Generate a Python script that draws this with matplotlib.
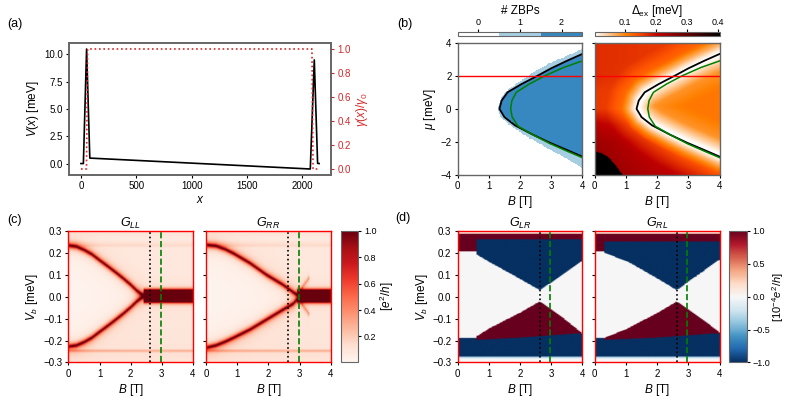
import numpy as np
import matplotlib
matplotlib.use('Agg')
import matplotlib.pyplot as plt
from matplotlib.colors import ListedColormap

plt.rcParams['font.family'] = ['Liberation Sans', 'DejaVu Sans']
plt.rcParams['mathtext.fontset'] = 'custom'
plt.rcParams['mathtext.rm'] = 'Liberation Sans'
plt.rcParams['mathtext.it'] = 'Liberation Sans:italic'
plt.rcParams['mathtext.bf'] = 'Liberation Sans:bold'
plt.rcParams['font.size'] = 7
plt.rcParams['axes.labelsize'] = 8.5
plt.rcParams['xtick.labelsize'] = 7
plt.rcParams['ytick.labelsize'] = 7
plt.rcParams['xtick.major.size'] = 2.5
plt.rcParams['ytick.major.size'] = 2.5
plt.rcParams['xtick.major.pad'] = 2
plt.rcParams['ytick.major.pad'] = 2
plt.rcParams['axes.labelpad'] = 2

# (a) potential profile and coupling
x_V = [0, 22, 51, 80, 2072, 2108, 2138, 2152]
V_x = [0.0, 0.0, 10.5, 0.5, -0.5, 9.5, 0.02, 0.0]
x_gamma = [0, 50, 60, 2087, 2097, 2150]
gamma_x = [0, 0, 1, 1, 0, 0]

# (b) phase boundaries (B in T, mu in meV)
black_mu = [-2.89, -2.48, -2.05, -1.55, -1.0, -0.5, 0.0, 0.5, 1.0, 1.5, 2.0, 2.45, 2.9, 3.32]
black_B = [4.0, 3.5, 2.96, 2.4, 1.84, 1.5, 1.34, 1.41, 1.6, 2.05, 2.56, 3.0, 3.5, 4.0]
green_mu = [-2.95, -2.55, -2.1, -1.55, -1.05, -0.5, 0.0, 0.5, 1.0, 1.5, 2.0, 2.5, 2.9]
green_B = [4.0, 3.5, 2.96, 2.4, 1.94, 1.75, 1.70, 1.74, 1.88, 2.3, 2.8, 3.4, 4.0]
outer_mu = [-3.6, -3.05, -2.5, -1.8, -1.0, -0.5, 0.0, 0.5, 1.0, 1.6, 2.3, 2.8, 3.2, 3.6]
outer_B = [4.0, 3.5, 2.96, 2.3, 1.65, 1.35, 1.28, 1.35, 1.5, 1.95, 2.5, 3.0, 3.5, 4.0]
mu_cut = 2.0

# (b) excitation gap levels
far_mu = [-4, -3, -2, -1, 0, 1, 2, 3, 4]
far_gap_B0 = [0.26, 0.25, 0.24, 0.21, 0.16, 0.16, 0.17, 0.17, 0.17]
far_gap_B4 = [0.17, 0.15, 0.14, 0.13, 0.12, 0.13, 0.14, 0.15, 0.15]
inner_gap = 0.11
corner_B = [0, 0.2, 0.4, 0.6, 0.87]
corner_mu = [-2.6, -2.7, -2.9, -3.3, -4.0]
corner_gap = 0.45
ramp_d = [0, 0.1, 0.25, 0.5, 1.0]
ramp_out = [0.0, 0.12, 0.42, 0.8, 1.0]
ramp_in = [0.0, 0.08, 0.35, 0.8, 1.0]

# (c) local conductance peaks (meV)
E_LL_B = [0, 0.25, 0.5, 0.75, 1.0, 1.25, 1.5, 1.75, 2.0, 2.2, 2.35, 2.42]
E_LL = [0.23, 0.225, 0.21, 0.19, 0.163, 0.137, 0.11, 0.082, 0.052, 0.025, 0.008, 0.0]
B_zbp_LL = 2.42
E_RR_B = [0, 0.3, 0.6, 0.87, 1.41, 1.94, 2.47, 2.8, 2.93]
E_RR_up = [0.232, 0.228, 0.213, 0.194, 0.149, 0.096, 0.051, 0.017, 0.005]
E_RR_dn = [0.235, 0.225, 0.208, 0.19, 0.152, 0.107, 0.062, 0.035, 0.015]
B_zbp_RR = 2.95
X_RR_B = [2.93, 3.1, 3.35]
X_RR_V = [0.0, 0.04, 0.09]
out_V = [-0.3, -0.26, -0.25, -0.24, 0.0, 0.22, 0.23, 0.26, 0.3]
out_G = [0.1, 0.12, 0.3, 0.1, 0.06, 0.08, 0.15, 0.06, 0.12]
B_dot = 2.63
B_dash = 2.97

# (d) nonlocal conductance boundaries
LR_step = 0.57
LR_up_B = [0.57, 1.0, 2.0, 2.62, 3.0, 3.5, 4.0]
LR_up_V = [0.19, 0.155, 0.077, 0.027, 0.062, 0.112, 0.16]
LR_lo_B = [0.57, 1.0, 2.0, 2.62, 3.0, 3.5, 4.0]
LR_lo_V = [0.185, 0.147, 0.075, 0.025, 0.06, 0.113, 0.17]
LR_floor_B = [0.6, 2.0, 3.9]
LR_floor_V = [-0.2, -0.19, -0.17]
RL_step = 0.3
RL_up_B = [0.3, 1.0, 2.0, 2.62, 3.0, 3.5, 4.0]
RL_up_V = [0.195, 0.16, 0.08, 0.027, 0.065, 0.115, 0.165]
RL_lo_B = [0.3, 1.0, 2.0, 2.62, 3.0, 3.5, 4.0]
RL_lo_V = [0.19, 0.15, 0.077, 0.025, 0.06, 0.11, 0.165]
RL_floor_B = [0.3, 2.0, 3.9]
RL_floor_V = [-0.2, -0.19, -0.17]

# grids
B_grid = np.linspace(0, 4, 161)
mu_grid = np.linspace(-4, 4, 161)
BB, MM = np.meshgrid(B_grid, mu_grid)
Vb = np.linspace(-0.3, 0.3, 241)
Bc = np.linspace(0, 4, 81)

# number of ZBPs
edge_in = np.interp(mu_grid, black_mu, black_B, left=99, right=99)
edge_out = np.interp(mu_grid, outer_mu, outer_B, left=99, right=99)
n_zbp = np.zeros_like(BB)
n_zbp[BB >= edge_out[:, None]] = 1
n_zbp[BB >= edge_in[:, None]] = 2

# gap map
mu_line = np.linspace(black_mu[0], black_mu[-1], 300)
B_line = np.interp(mu_line, black_mu, black_B)
dist = np.sqrt((BB[..., None] - B_line) ** 2 + ((MM[..., None] - mu_line) / 2.0) ** 2).min(axis=-1)
inside = BB >= edge_in[:, None]
far0 = np.interp(MM, far_mu, far_gap_B0)
far4 = np.interp(MM, far_mu, far_gap_B4)
far = far0 + (far4 - far0) * BB / 4
gap = np.where(inside, inner_gap * np.interp(dist, ramp_d, ramp_in), far * np.interp(dist, ramp_d, ramp_out))
gap[MM < np.interp(BB, corner_B, corner_mu, right=-99)] = corner_gap


def peak(v, w, a):
    return a * w ** 2 / (v ** 2 + w ** 2)


def local_map(E_B, E_up, E_dn, B_zbp, X_B=None, X_V=None):
    G = np.zeros((len(Vb), len(Bc)))
    for j, b in enumerate(Bc):
        base = np.interp(Vb, out_V, out_G)
        if b < B_zbp:
            eu = np.interp(b, E_B, E_up)
            ed = np.interp(b, E_B, E_dn)
            col = np.where((Vb < eu) & (Vb > -ed), 0.015, base)
            for e in (eu, -ed):
                col = col + peak(Vb - e, 0.008, 0.9) + peak(Vb - e, 0.025, 0.12)
        else:
            col = base + 1.3 / (1 + (Vb / 0.03) ** 8) + peak(Vb, 0.04, 0.12)
            if X_B is not None and b < X_B[-1]:
                ex = np.interp(b, X_B, X_V)
                col = col + peak(Vb - ex, 0.008, 0.3) + peak(Vb + ex, 0.008, 0.3)
        G[:, j] = col
    return G


def nonlocal_map(step, up_B, up_V, lo_B, lo_V, fl_B, fl_V, red_lo):
    G = np.zeros((len(Vb), len(Bc)))
    for j, b in enumerate(Bc):
        col = np.zeros(len(Vb))
        col[(Vb >= 0.284) & (Vb < 0.29)] = 0.25
        col[(Vb <= -0.275) & (Vb > -0.283)] = -0.3
        if b < step:
            col[(Vb > 0.205) & (Vb < 0.284)] = 1
            col[(Vb < -0.19) & (Vb > -0.275)] = -1
        else:
            eu = np.interp(b, up_B, up_V)
            el = np.interp(b, lo_B, lo_V)
            fl = np.interp(b, fl_B, fl_V)
            col[(Vb > red_lo) & (Vb < 0.284)] = 1
            col[(Vb > eu) & (Vb <= red_lo)] = -1
            col[(Vb < -el) & (Vb > fl)] = 1
            col[(Vb <= min(fl, -el)) & (Vb > -0.275)] = -1
        G[:, j] = col
    return G


G_LL = local_map(E_LL_B, E_LL, E_LL, B_zbp_LL)
G_RR = local_map(E_RR_B, E_RR_up, E_RR_dn, B_zbp_RR, X_RR_B, X_RR_V)
G_LR = nonlocal_map(LR_step, LR_up_B, LR_up_V, LR_lo_B, LR_lo_V, LR_floor_B, LR_floor_V, 0.258)
G_RL = nonlocal_map(RL_step, RL_up_B, RL_up_V, RL_lo_B, RL_lo_V, RL_floor_B, RL_floor_V, 0.25)

fig = plt.figure(figsize=(7.89, 3.98), dpi=100)
frame = '0.4'

# panel (a)
ax_a = fig.add_axes([0.0875, 0.5603, 0.3321, 0.3317])
ax_a.plot(x_V, V_x, color='black', lw=1.2)
ax_a.set_xlabel('$x$')
ax_a.set_ylabel('$V(x)$ [meV]')
ax_a.set_yticks([0, 2.5, 5, 7.5, 10])
ax_a.set_xticks([0, 500, 1000, 1500, 2000])
ax_g = ax_a.twinx()
ax_g.plot(x_gamma, gamma_x, color='tab:red', lw=1.2, ls=':')
ax_g.set_ylabel(r'$\gamma(x)/\gamma_0$', color='tab:red')
ax_g.tick_params(axis='y', colors='tab:red')
ax_g.set_yticks([0, 0.2, 0.4, 0.6, 0.8, 1.0])
for a in (ax_a, ax_g):
    for sp in a.spines.values():
        sp.set_color(frame)
        sp.set_linewidth(1.2)

# panel (b)
ax_b1 = fig.add_axes([0.5801, 0.5603, 0.1579, 0.3324])
ax_b2 = fig.add_axes([0.7537, 0.5603, 0.1584, 0.3324])
cmap_zbp = ListedColormap(['white', '#a6cee3', '#3787c0'])
im_z = ax_b1.imshow(n_zbp, extent=[0, 4, -4, 4], origin='lower', aspect='auto',
                    cmap=cmap_zbp, vmin=-0.5, vmax=2.5, interpolation='nearest')
im_g = ax_b2.imshow(gap, extent=[0, 4, -4, 4], origin='lower', aspect='auto',
                    cmap='gist_heat_r', vmin=0.003, vmax=0.405, interpolation='bilinear')
for a in (ax_b1, ax_b2):
    a.plot(black_B, black_mu, color='black', lw=1.3)
    a.plot(green_B, green_mu, color='green', lw=1.1)
    a.axhline(mu_cut, color='red', lw=1.0)
    a.set_xlim(0, 4)
    a.set_ylim(-4, 4)
    a.set_xticks([0, 1, 2, 3, 4])
    a.set_yticks([-4, -2, 0, 2, 4])
    a.set_xlabel('$B$ [T]')
    for sp in a.spines.values():
        sp.set_color(frame)
        sp.set_linewidth(1.0)
ax_b1.set_ylabel(r'$\mu$ [meV]')
ax_b2.set_yticklabels([])

cax1 = fig.add_axes([0.5801, 0.9103, 0.1579, 0.0085])
cb1 = fig.colorbar(im_z, cax=cax1, orientation='horizontal', ticks=[0, 1, 2])
cax2 = fig.add_axes([0.7541, 0.9103, 0.1579, 0.0085])
cb2 = fig.colorbar(im_g, cax=cax2, orientation='horizontal', ticks=[0.1, 0.2, 0.3, 0.4])
cb1.set_label('# ZBPs', fontsize=8.5, labelpad=3)
cb2.set_label(r'$\Delta_\mathrm{ex}$ [meV]', fontsize=8.5, labelpad=3)
for cb in (cb1, cb2):
    cb.ax.xaxis.set_ticks_position('top')
    cb.ax.xaxis.set_label_position('top')
    cb.ax.tick_params(pad=1, labelsize=6.5)
    cb.outline.set_edgecolor(frame)

# panels (c) and (d)
pos_c = [[0.0868, 0.0892, 0.1578, 0.3309], [0.2611, 0.0892, 0.1584, 0.3309]]
pos_d = [[0.5801, 0.0892, 0.1579, 0.3309], [0.7537, 0.0892, 0.1584, 0.3309]]
maps = [(G_LL, '$G_{LL}$'), (G_RR, '$G_{RR}$'), (G_LR, '$G_{LR}$'), (G_RL, '$G_{RL}$')]
ims = []
for k, (pos, (G, title)) in enumerate(zip(pos_c + pos_d, maps)):
    ax = fig.add_axes(pos)
    if k < 2:
        im = ax.imshow(G, extent=[0, 4, -0.3, 0.3], origin='lower', aspect='auto',
                       cmap='Reds', vmin=0.003, vmax=1.0, interpolation='bilinear')
    else:
        im = ax.imshow(G, extent=[0, 4, -0.3, 0.3], origin='lower', aspect='auto',
                       cmap='RdBu_r', vmin=-1, vmax=1, interpolation='bilinear')
    ims.append(im)
    ax.axvline(B_dot, color='black', ls=':', lw=1.2)
    ax.axvline(B_dash, color='green', ls='--', lw=1.2)
    ax.set_xlim(0, 4)
    ax.set_ylim(-0.3, 0.3)
    ax.set_xticks([0, 1, 2, 3, 4])
    ax.set_yticks([-0.3, -0.2, -0.1, 0, 0.1, 0.2, 0.3])
    ax.set_xlabel('$B$ [T]')
    ax.set_title(title, fontsize=9, pad=3)
    if k % 2 == 0:
        ax.set_ylabel('$V_b$ [meV]')
    else:
        ax.set_yticklabels([])
    for sp in ax.spines.values():
        sp.set_color('red')
        sp.set_linewidth(1.0)

cax_c = fig.add_axes([0.4318, 0.0892, 0.0223, 0.3309])
cb_c = fig.colorbar(ims[0], cax=cax_c, ticks=[0.2, 0.4, 0.6, 0.8, 1.0])
cb_c.set_label('$[e^2/h]$', labelpad=1)
cax_d = fig.add_axes([0.9243, 0.0892, 0.0228, 0.3309])
cb_d = fig.colorbar(ims[2], cax=cax_d, ticks=[-1.0, -0.5, 0.0, 0.5, 1.0])
cb_d.set_label('$[10^{-4}e^2/h]$', labelpad=0, fontsize=8)
for cb in (cb_c, cb_d):
    cb.outline.set_edgecolor(frame)
    cb.ax.tick_params(labelsize=6.5, pad=1.5)

fig.text(0.009, 0.94, '(a)', fontsize=9, va='center')
fig.text(0.503, 0.94, '(b)', fontsize=9, va='center')
fig.text(0.009, 0.447, '(c)', fontsize=9, va='center')
fig.text(0.501, 0.452, '(d)', fontsize=9, va='center')

fig.savefig('out.png', dpi=100)
